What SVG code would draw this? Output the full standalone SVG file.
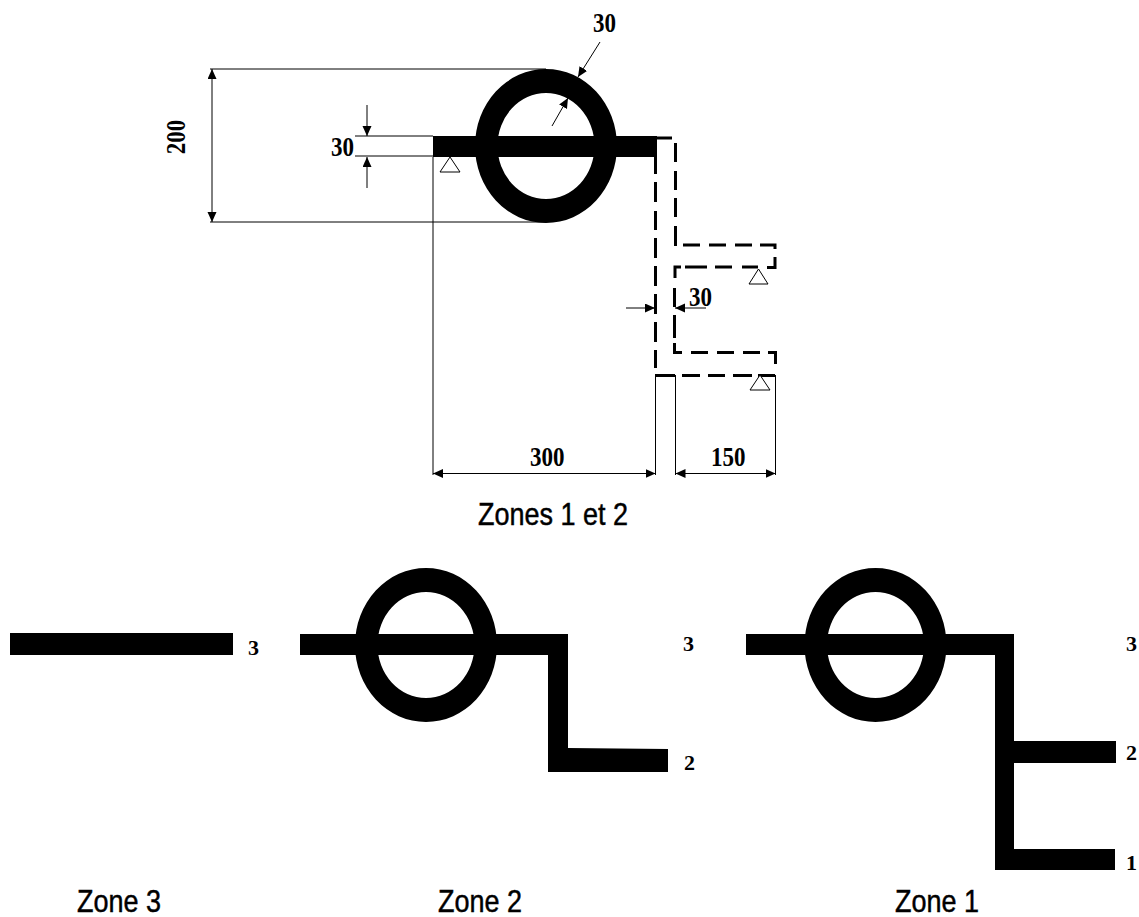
<svg xmlns="http://www.w3.org/2000/svg" width="1139" height="917" viewBox="0 0 1139 917">
<style>
.d{fill:none;stroke:#000;stroke-width:1}
.a{fill:none;stroke:#000;stroke-width:1;marker-end:url(#ah)}
.b{fill:none;stroke:#000;stroke-width:1;marker-start:url(#ah);marker-end:url(#ah)}
.s{fill:#000;stroke:none}
.h{fill:none;stroke:#000;stroke-width:3}
.t{fill:#fff;stroke:#000;stroke-width:1}
.n{font-family:"Liberation Serif",serif;font-weight:bold;font-size:23px;fill:#000}
.m{font-family:"Liberation Serif",serif;font-weight:bold;font-size:22px;fill:#000}
.z{font-family:"Liberation Sans",sans-serif;font-size:27px;fill:#000;stroke:#000;stroke-width:.4}
</style>
<defs>
<marker id="ah" markerUnits="userSpaceOnUse" markerWidth="12" markerHeight="10" refX="10" refY="4.500" orient="auto-start-reverse"><path d="M0 0L10 4.500L0 9Z" fill="#000"/></marker>
<path id="ring" fill-rule="evenodd" d="M-71 0A71 77 0 1 0 71 0A71 77 0 1 0 -71 0ZM-48.500 0A48.500 53 0 1 0 48.500 0A48.500 53 0 1 0 -48.500 0Z"/>
</defs>
<g id="connectors">
<path class="d" d="M210 69H546M210 222H546M355 136H433M355 156H433M433 157V475M655.500 375V475M675.500 375V475M775.500 375V475"/>
<path class="b" d="M212 69V222"/>
<path class="a" d="M367 105V136"/>
<path class="a" d="M367 188V157"/>
<path class="a" d="M600 42L578 77"/>
<path class="a" d="M552 126L568 98"/>
<path class="a" d="M626 308H655"/>
<path class="a" d="M706 308H675"/>
<path class="b" d="M433 473.500H655.500"/>
<path class="b" d="M675.500 473.500H775.500"/>
</g>
<g id="section-main">
<use href="#ring" x="546" y="146"/>
<rect class="s" x="433" y="136" width="224" height="21"/>
<path class="h" d="M656 138H672"/>
<path class="h" d="M655.500 155V174M655.500 182V202M655.500 211V230M655.500 238V258M655.500 266V286M655.500 294V314M655.500 322V342M655.500 350V368"/>
<path class="h" d="M675.500 143V162M675.500 171V190M675.500 198V217M675.500 226V246"/>
<path class="h" d="M683 245H700M709 245H726M735 245H752M760 245H775V249M775 257V267.500H767M758 267H742M732 267H715M707 267H685M681 267H675V278M674.500 288V307M674.500 315V338M674.500 343V352.500H682M691 352.500H708M717 352.500H734M743 352.500H760M768 352.500H775.500V364"/>
<path class="h" d="M655 375.500H675M682 375.500H700M708 375.500H725M733 375.500H752M758 375.500H775"/>
<path class="t" d="M450 157L440 172H460Z"/>
<path class="t" d="M758.500 269L749 284H768Z"/>
<path class="t" d="M760 375L750 390H770Z"/>
</g>
<g id="zone-3-shape"><rect class="s" x="10" y="633" width="223" height="22"/></g>
<g id="zone-2-shape">
<use href="#ring" x="426" y="645"/>
<path class="s" d="M300 634H568V748L668 749V772H548V655H300Z"/>
</g>
<g id="zone-1-shape">
<use href="#ring" x="875.500" y="645"/>
<path class="s" d="M746 634H1014V741H1116V763H1014V849H1115V870H995V655H746Z"/>
</g>
<g id="labels">
<text class="n" transform="translate(593 32) scale(1 1.17)">30</text>
<text class="n" transform="translate(331 156) scale(1 1.17)">30</text>
<text class="n" transform="translate(185 137) rotate(-90) scale(1 1.17)" text-anchor="middle">200</text>
<text class="n" transform="translate(689 306) scale(1 1.17)">30</text>
<text class="n" transform="translate(530 466) scale(1 1.17)">300</text>
<text class="n" transform="translate(711 466) scale(1 1.17)">150</text>
<text class="m" x="248" y="655">3</text>
<text class="m" x="683" y="651">3</text>
<text class="m" x="684" y="770">2</text>
<text class="m" x="1126" y="651">3</text>
<text class="m" x="1126" y="760">2</text>
<text class="m" x="1126" y="870">1</text>
<text class="z" transform="translate(478 525) scale(1 1.17)">Zones 1 et 2</text>
<text class="z" transform="translate(77 912) scale(1 1.17)">Zone 3</text>
<text class="z" transform="translate(438 912) scale(1 1.17)">Zone 2</text>
<text class="z" transform="translate(895 912) scale(1 1.17)">Zone 1</text>
</g>
</svg>
